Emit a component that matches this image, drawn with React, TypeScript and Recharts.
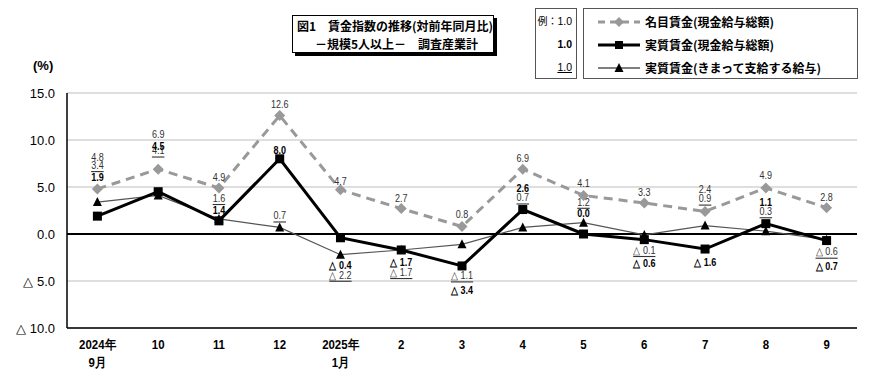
import React from "react";
import {
  CartesianGrid,
  LabelList,
  Line,
  LineChart,
  ReferenceLine,
  XAxis,
  YAxis,
} from "recharts";

const categories = ["2024年9月", "10", "11", "12", "2025年1月", "2", "3", "4", "5", "6", "7", "8", "9"];
const nominalWage = [4.8, 6.9, 4.9, 12.6, 4.7, 2.7, 0.8, 6.9, 4.1, 3.3, 2.4, 4.9, 2.8];
const realWage = [1.9, 4.5, 1.4, 8.0, -0.4, -1.7, -3.4, 2.6, 0.0, -0.6, -1.6, 1.1, -0.7];
const realScheduled = [3.4, 4.1, 1.6, 0.7, -2.2, -1.7, -1.1, 0.7, 1.2, -0.1, 0.9, 0.3, -0.6];
const yTicks = [-10, -5, 0, 5, 10, 15];

// label offsets (px, text centre relative to its own point)
const nominalDy = [-32, -35, -11, -11, -9, -10, -12, -11, -12, -11, -22, -13, -11];
const realDy = [-39, -46, -11, -9, 27, 12, 24, -21, -21, 24, 13, -21, 26];
const schedDy = [-37, -45, -21, -12, 20, 22, 31, -30, -21, 15, -27, -20, 12];

const data = categories.map((cat, i) => ({
  cat,
  nominal: nominalWage[i],
  real: realWage[i],
  sched: realScheduled[i],
}));

const NUM_FONT = "'Liberation Sans', Arial, sans-serif";
const JP_FONT = "'Noto Sans CJK JP', 'Noto Sans', sans-serif";

const fmt = (v: number) => (v < 0 ? `△ ${Math.abs(v).toFixed(1)}` : v.toFixed(1));

const makeLabel =
  (dy: number[], style: { fill: string; weight: string | number; underline?: boolean }) =>
  (props: any) => {
    const { x, y, index, value } = props;
    return (
      <text
        transform={`translate(${x},${y + dy[index]}) scale(0.82,1)`}
        x={0}
        y={0}
        textAnchor="middle"
        dominantBaseline="central"
        fontFamily={NUM_FONT}
        fontSize={11}
        fontWeight={style.weight}
        fill={style.fill}
        style={style.underline ? { textDecoration: "underline" } : undefined}
      >
        {fmt(Number(value))}
      </text>
    );
  };

const Diamond = (props: any) => {
  const { cx, cy } = props;
  if (cx == null || cy == null) return null;
  const r = 5.5;
  return <polygon points={`${cx},${cy - r} ${cx + r},${cy} ${cx},${cy + r} ${cx - r},${cy}`} fill="#999999" />;
};

const Square = (props: any) => {
  const { cx, cy } = props;
  if (cx == null || cy == null) return null;
  return <rect x={cx - 4.5} y={cy - 4.5} width={9} height={9} fill="#000" />;
};

const Triangle = (props: any) => {
  const { cx, cy } = props;
  if (cx == null || cy == null) return null;
  return <polygon points={`${cx},${cy - 5} ${cx + 4.5},${cy + 4} ${cx - 4.5},${cy + 4}`} fill="#000" />;
};

const XTick = (props: any) => {
  const { x, y, payload } = props;
  const label: string = payload.value;
  const parts = label.includes("年") ? [label.split("年")[0] + "年", label.split("年")[1]] : [label];
  return (
    <g>
      {parts.map((p, i) => (
        <text
          key={i}
          transform={`translate(${x},${y + 9 + i * 18}) scale(0.88,1)`}
          textAnchor="middle"
          dominantBaseline="central"
          fontFamily={NUM_FONT}
          fontSize={13}
          fontWeight="bold"
          fill="#000"
        >
          {p}
        </text>
      ))}
    </g>
  );
};

const YTick = (props: any) => {
  const { x, y, payload } = props;
  const v = payload.value as number;
  const txt = v < 0 ? `△ ${Math.abs(v).toFixed(1)}` : v.toFixed(1);
  return (
    <text x={x - 4} y={y} textAnchor="end" dominantBaseline="central" fontFamily={NUM_FONT} fontSize={13} fill="#000">
      {txt}
    </text>
  );
};

const LegendRow = ({ kind, text }: { kind: "nominal" | "real" | "sched"; text: string }) => (
  <div style={{ display: "flex", alignItems: "center", height: 23 }}>
    <svg width={46} height={14} style={{ marginLeft: 12, marginRight: 3 }}>
      {kind === "nominal" && (
        <>
          <line x1={2} y1={7} x2={44} y2={7} stroke="#999" strokeWidth={3} strokeDasharray="7 5" />
          <polygon points="23,2 28,7 23,12 18,7" fill="#999" />
        </>
      )}
      {kind === "real" && (
        <>
          <line x1={2} y1={7} x2={44} y2={7} stroke="#000" strokeWidth={3} />
          <rect x={19} y={3} width={8} height={8} fill="#000" />
        </>
      )}
      {kind === "sched" && (
        <>
          <line x1={2} y1={7} x2={44} y2={7} stroke="#000" strokeWidth={1} />
          <polygon points="23,2 27.5,11 18.5,11" fill="#000" />
        </>
      )}
    </svg>
    <span style={{ fontFamily: JP_FONT, fontSize: 12, fontWeight: "bold", whiteSpace: "nowrap" }}>{text}</span>
  </div>
);

export default function App() {
  return (
    <div style={{ position: "absolute", left: 0, top: 0, width: 890, height: 377, background: "#fff" }}>
      <LineChart width={890} height={377} data={data} margin={{ top: 93, right: 33, bottom: 0, left: 0 }}>
        <CartesianGrid horizontal vertical={false} stroke="#bdbdbd" />
        <XAxis
          dataKey="cat"
          interval={0}
          padding={{ left: 30.4, right: 30.4 }}
          tickLine={false}
          axisLine={{ stroke: "#000", strokeWidth: 1.5 }}
          height={49}
          tick={<XTick />}
        />
        <YAxis
          domain={[-10, 15]}
          ticks={yTicks}
          width={67}
          tickLine={false}
          axisLine={{ stroke: "#000", strokeWidth: 1.5 }}
          tick={<YTick />}
        />
        <YAxis
          yAxisId="right"
          orientation="right"
          width={0}
          tick={false}
          tickLine={false}
          axisLine={{ stroke: "#9a9a9a" }}
        />
        <ReferenceLine y={0} stroke="#000" strokeWidth={2} />
        <Line
          dataKey="sched"
          stroke="#555"
          strokeWidth={1.2}
          dot={<Triangle />}
          activeDot={false}
          isAnimationActive={false}
        >
          <LabelList dataKey="sched" content={makeLabel(schedDy, { fill: "#333", weight: "normal", underline: true })} />
        </Line>
        <Line
          dataKey="nominal"
          stroke="#999999"
          strokeWidth={3}
          strokeDasharray="9 6"
          dot={<Diamond />}
          activeDot={false}
          isAnimationActive={false}
        >
          <LabelList dataKey="nominal" content={makeLabel(nominalDy, { fill: "#333", weight: "normal" })} />
        </Line>
        <Line
          dataKey="real"
          stroke="#000"
          strokeWidth={3}
          dot={<Square />}
          activeDot={false}
          isAnimationActive={false}
        >
          <LabelList dataKey="real" content={makeLabel(realDy, { fill: "#000", weight: "bold" })} />
        </Line>
      </LineChart>

      <div
        style={{
          position: "absolute",
          left: 33,
          top: 58,
          fontFamily: NUM_FONT,
          fontSize: 13,
          fontWeight: "bold",
        }}
      >
        (%)
      </div>

      {/* title box */}
      <div
        style={{
          position: "absolute",
          left: 292,
          top: 15,
          width: 202,
          height: 38,
          border: "1px solid #000",
          boxShadow: "3px 3px 0 #000",
          fontFamily: JP_FONT,
          fontSize: 12,
          fontWeight: "bold",
          lineHeight: "18px",
          boxSizing: "border-box",
          paddingTop: 1,
        }}
      >
        <div style={{ paddingLeft: 4, whiteSpace: "nowrap" }}>図1　賃金指数の推移(対前年同月比)</div>
        <div style={{ paddingLeft: 22, whiteSpace: "nowrap" }}>－規模5人以上－　調査産業計</div>
      </div>

      {/* example box */}
      <div
        style={{
          position: "absolute",
          left: 535,
          top: 8,
          width: 42,
          height: 71,
          border: "1px solid #555",
          boxSizing: "border-box",
          fontFamily: NUM_FONT,
          fontSize: 10.5,
          textAlign: "right",
          paddingRight: 4,
          paddingTop: 3,
        }}
      >
        <div style={{ height: 23, lineHeight: "18px" }}>
          <span style={{ fontFamily: JP_FONT, fontSize: 10 }}>例：</span>1.0
        </div>
        <div style={{ height: 23, lineHeight: "18px", fontWeight: "bold" }}>1.0</div>
        <div style={{ height: 23, lineHeight: "18px", textDecoration: "underline" }}>1.0</div>
      </div>

      {/* legend box */}
      <div
        style={{
          position: "absolute",
          left: 583,
          top: 8,
          width: 275,
          height: 71,
          border: "1px solid #555",
          boxSizing: "border-box",
          paddingTop: 1,
        }}
      >
        <LegendRow kind="nominal" text="名目賃金(現金給与総額)" />
        <LegendRow kind="real" text="実質賃金(現金給与総額)" />
        <LegendRow kind="sched" text="実質賃金(きまって支給する給与)" />
      </div>
    </div>
  );
}
